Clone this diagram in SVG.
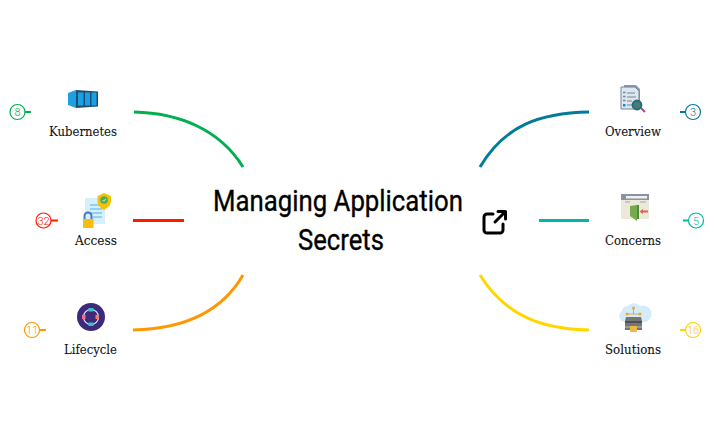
<svg xmlns="http://www.w3.org/2000/svg" width="714" height="442" viewBox="0 0 714 442">
<style>
.c{fill:none;stroke-width:3;stroke-linecap:butt}
.s{fill:none;stroke-width:2}
.b{fill:#fff;stroke-width:1.200}
.n{font:300 11px Roboto,"Liberation Sans",sans-serif;text-anchor:middle}
.l{font:13px "DejaVu Serif",serif;fill:#111;stroke:#111;stroke-width:.1}
.t{font:30px Roboto,"Liberation Sans",sans-serif;fill:#000;stroke:#000;stroke-width:.35}
</style>
<rect width="714" height="442" fill="#fff"/>
<g id="connectors">
<path class="c" stroke="#00b050" d="M134 112C180 113 220 130 243 167"/>
<path class="c" stroke="#ff1a00" d="M133 220.500H184"/>
<path class="c" stroke="#ff9800" d="M133 330C180 329 220 315 243 275"/>
<path class="c" stroke="#007c9a" d="M589 112C540 113 505 125 480 167"/>
<path class="c" stroke="#00b8a5" d="M539 220.500H589"/>
<path class="c" stroke="#ffd600" d="M589 330C540 329 505 315 480 275"/>
</g>
<g id="center">
<text class="t" x="213" y="211" textLength="250" lengthAdjust="spacingAndGlyphs">Managing Application</text>
<text class="t" x="298" y="250" textLength="86" lengthAdjust="spacingAndGlyphs">Secrets</text>
<g fill="none" stroke="#000" stroke-width="3" stroke-linecap="round" stroke-linejoin="round">
<path d="M493 214H487a3 3 0 0 0-3 3V230a3 3 0 0 0 3 3H500a3 3 0 0 0 3-3V224"/>
<path d="M495 222L505 212M498 211.500H505.500V219"/>
</g>
</g>
<g id="kubernetes">
<path d="M68 93L76 90V108L68 105Z" fill="#1e9fe0"/>
<path d="M76 90L98 91.500V106.500L76 108Z" fill="#1f4f70"/>
<path d="M78 92.500H83.500V105.500H78ZM85 92.500H90V105.500H85ZM91.500 92.500H96.500V105.500H91.500Z" fill="#1ba0e8"/>
<text class="l" x="49" y="136" textLength="68" lengthAdjust="spacingAndGlyphs">Kubernetes</text>
<path class="s" stroke="#00b050" d="M25 112H31"/>
<circle class="b" stroke="#00b050" cx="17.500" cy="112" r="7.500"/>
<text class="n" x="17.500" y="116" fill="#00b050">8</text>
</g>
<g id="access">
<rect x="85" y="198" width="20" height="26" fill="#d5effb"/>
<path d="M90 205H102M90 209H102M90 213H102M93 217H102" stroke="#7cc8ee" stroke-width="1.500"/>
<path d="M84.500 221V216a3.500 3.500 0 0 1 7 0V221" fill="none" stroke="#4a78c0" stroke-width="2"/>
<rect x="83" y="219" width="10.500" height="9" fill="#f7bd10"/>
<path d="M104 193L111 196V201C111 206 107 208 104 210C101 208 97.500 206 97.500 201V196Z" fill="#f4c20d"/>
<circle cx="104" cy="200" r="3.800" fill="#4caf50"/>
<path d="M102.500 200L103.700 201.200L105.700 199" fill="none" stroke="#fff" stroke-width=".8"/>
<text class="l" x="75" y="245" textLength="42" lengthAdjust="spacingAndGlyphs">Access</text>
<path class="s" stroke="#ff1a00" d="M51 220.500H58"/>
<circle class="b" stroke="#ff1a00" cx="43.500" cy="220.500" r="7.500"/>
<text class="n" x="43.500" y="224.500" fill="#ff1a00">32</text>
</g>
<g id="lifecycle">
<circle cx="91" cy="317" r="14" fill="#3d2a7d"/>
<circle cx="91" cy="317" r="7.500" fill="none" stroke="#e8e4f4" stroke-width="1.200"/>
<rect x="88.500" y="308" width="5" height="3.500" fill="#35c4c0"/>
<rect x="88.500" y="322.500" width="5" height="3.500" fill="#35c4c0"/>
<rect x="82" y="315" width="3.500" height="4" fill="#f0708a"/>
<rect x="95.500" y="315" width="3.500" height="4" fill="#f0806a"/>
<text class="l" x="64" y="354" textLength="53" lengthAdjust="spacingAndGlyphs">Lifecycle</text>
<path class="s" stroke="#ff9800" d="M39 330H46"/>
<circle class="b" stroke="#ff9800" cx="32" cy="330" r="7.500"/>
<text class="n" x="32" y="334" fill="#ff9800">11</text>
</g>
<g id="overview">
<path d="M624 85H636L640 89V108H624Z" fill="#8a9ab0"/>
<path d="M621 87H635L639 91V109H621Z" fill="#dfe7ee" stroke="#71849c" stroke-width="1"/>
<path d="M627 93H635M627 97H636M627 101H632M627 105H632" stroke="#71849c" stroke-width="1"/>
<path d="M623 92.500H625.500M623 96.500H625.500M623 100.500H625.500" stroke="#71849c" stroke-width="1.500"/>
<rect x="623" y="104" width="2.500" height="2.500" fill="#1e88d0"/>
<path d="M641 108L645 112" stroke="#b04a70" stroke-width="2"/>
<circle cx="637" cy="105" r="4.500" fill="#4a7a78" stroke="#1f6f78" stroke-width="1.800"/>
<text class="l" x="605" y="136" textLength="56" lengthAdjust="spacingAndGlyphs">Overview</text>
<path class="s" stroke="#007c9a" d="M680 112H686"/>
<circle class="b" stroke="#007c9a" cx="693" cy="112" r="7.500"/>
<text class="n" x="693" y="116" fill="#007c9a">3</text>
</g>
<g id="concerns">
<rect x="621" y="194" width="28" height="25" rx="1.500" fill="#ece8da"/>
<rect x="621" y="194" width="28" height="6" fill="#8a93a0"/>
<rect x="626" y="196" width="21" height="2.500" fill="#eef0f2"/>
<path d="M625 202H630M640 202H646" stroke="#9aa6b0" stroke-width="1"/>
<path d="M630 206L637 205V221L630 216Z" fill="#74ab4e"/>
<path d="M637 205H639V219H637Z" fill="#4f8a34"/>
<path d="M641 211.500H648" stroke="#e06055" stroke-width="2"/>
<path d="M639.500 211.500L643 209V214Z" fill="#e06055"/>
<text class="l" x="605" y="245" textLength="56" lengthAdjust="spacingAndGlyphs">Concerns</text>
<path class="s" stroke="#00b8a5" d="M683 220.500H689"/>
<circle class="b" stroke="#00b8a5" cx="696" cy="220.500" r="7.500"/>
<text class="n" x="696" y="224.500" fill="#00b8a5">5</text>
</g>
<g id="solutions">
<path d="M625 322a6 6 0 0 1-3-11a6 6 0 0 1 6-5a8 8 0 0 1 12 0a7 7 0 0 1 6 16Z" fill="#d4ebf8"/>
<path d="M627 314H640M633.500 308V314" stroke="#e8a840" stroke-width="1"/>
<circle cx="633.500" cy="308" r="1.500" fill="#e8a840"/>
<circle cx="627" cy="314" r="1.500" fill="#e8a840"/>
<circle cx="640" cy="314" r="1.500" fill="#e8a840"/>
<path d="M626 317H641L642 321V330H625V321Z" fill="#767676"/>
<rect x="625" y="321" width="17" height="2" fill="#505050"/>
<rect x="625" y="326" width="17" height="2" fill="#9a9a9a"/>
<rect x="630" y="326" width="7" height="6" rx="1" fill="#f0b840"/>
<text class="l" x="605" y="354" textLength="56" lengthAdjust="spacingAndGlyphs">Solutions</text>
<path class="s" stroke="#ffd600" d="M680 330H686"/>
<circle class="b" stroke="#ffd600" cx="693" cy="330" r="7.500"/>
<text class="n" x="693" y="334" fill="#ffc800">16</text>
</g>
</svg>
